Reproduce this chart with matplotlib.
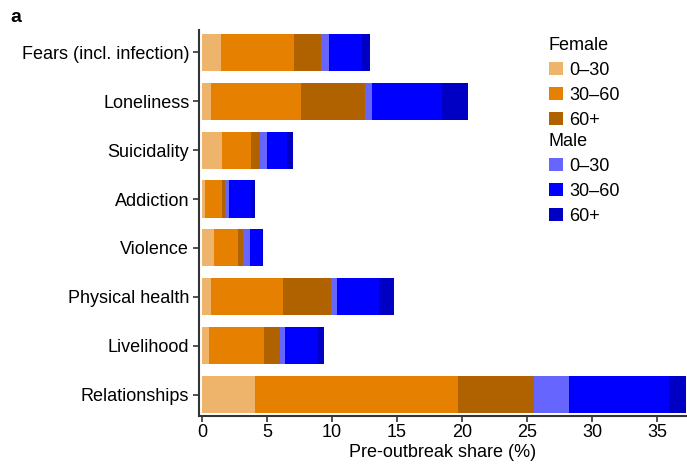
import matplotlib
matplotlib.use("Agg")
import matplotlib.pyplot as plt
import numpy as np

plt.rcParams['font.family'] = ['Liberation Sans', 'DejaVu Sans']

categories = ["Fears (incl. infection)", "Loneliness", "Suicidality", "Addiction",
              "Violence", "Physical health", "Livelihood", "Relationships"]

female_0_30 = [1.46, 0.69, 1.54, 0.23, 0.92, 0.69, 0.54, 4.08]
female_30_60 = [5.62, 6.95, 2.23, 1.31, 1.85, 5.54, 4.23, 15.59]
female_60 = [2.07, 4.92, 0.69, 0.23, 0.38, 3.72, 1.26, 5.84]
male_0_30 = [0.60, 0.49, 0.54, 0.28, 0.54, 0.43, 0.33, 2.75]
male_30_60 = [2.56, 5.41, 1.51, 1.72, 0.93, 3.21, 2.56, 7.69]
male_60 = [0.61, 2.02, 0.49, 0.31, 0.05, 1.18, 0.44, 1.35]

age_labels = ["0\u201330", "30\u201360", "60+"]
female_colors = ["#EEB46C", "#E58000", "#B06200"]
male_colors = ["#6666FF", "#0000FF", "#0000C4"]

FS = 13

fig = plt.figure(figsize=(6.87, 4.67), dpi=100)
ax = fig.add_axes([199/687, 51/467, 487/687, 386/467])

y = np.arange(len(categories))
left = np.zeros(len(categories))
handles_f, handles_m = [], []
for vals, col, lab in zip([female_0_30, female_30_60, female_60], female_colors, age_labels):
    b = ax.barh(y, vals, left=left, height=0.76, color=col, label=lab)
    left += np.array(vals)
    handles_f.append(b)
for vals, col, lab in zip([male_0_30, male_30_60, male_60], male_colors, age_labels):
    b = ax.barh(y, vals, left=left, height=0.76, color=col, label=lab)
    left += np.array(vals)
    handles_m.append(b)

ax.set_yticks(y)
ax.set_yticklabels(categories, fontsize=FS)
ax.set_ylim(7.44, -0.46)
ax.set_xlim(-0.23, 37.23)
ax.set_xticks([0, 5, 10, 15, 20, 25, 30, 35])
ax.tick_params(axis='x', labelsize=FS, length=4, width=1.2, color='#333333', pad=2)
ax.tick_params(axis='y', length=4, width=1.2, color='#333333', pad=3)
ax.set_xlabel("Pre-outbreak share (%)", fontsize=FS, labelpad=2)
for s in ['top', 'right']:
    ax.spines[s].set_visible(False)
for s in ['left', 'bottom']:
    ax.spines[s].set_linewidth(1.5)
    ax.spines[s].set_color('#333333')

leg_kw = dict(frameon=False, fontsize=FS, title_fontsize=FS, alignment='left',
              handlelength=0.78, handleheight=0.72, handletextpad=0.33,
              labelspacing=0.44, borderpad=0, borderaxespad=0)
leg1 = ax.legend(handles=handles_f, labels=age_labels, title="Female",
                 loc='upper left', bbox_to_anchor=(549/687, 1 - 37/467),
                 bbox_transform=fig.transFigure, **leg_kw)
ax.add_artist(leg1)
ax.legend(handles=handles_m, labels=age_labels, title="Male",
          loc='upper left', bbox_to_anchor=(549/687, 1 - 133/467),
          bbox_transform=fig.transFigure, **leg_kw)

fig.text(10/687, 1 - 18/467, "a", fontsize=14, fontweight='bold', va='center', ha='left')

fig.savefig("out.png", dpi=100)
